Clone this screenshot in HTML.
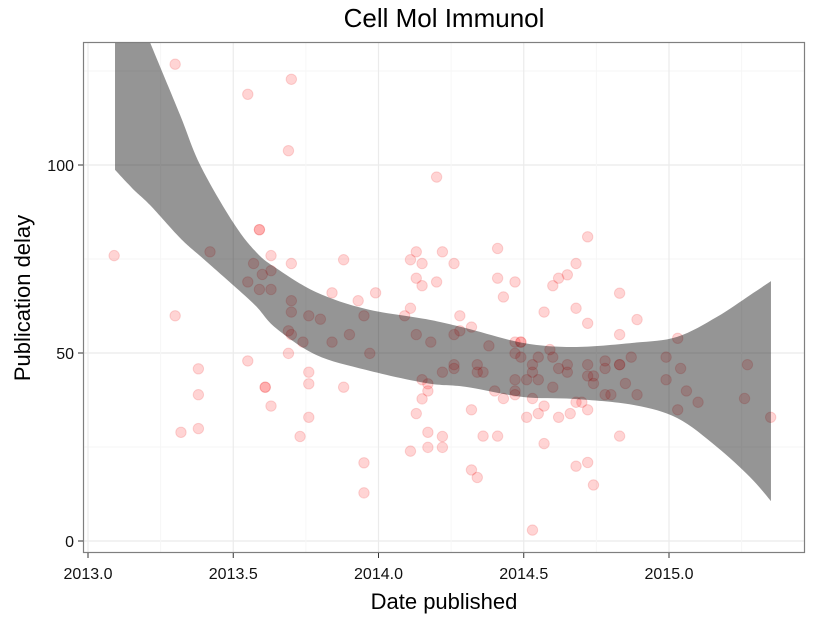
<!DOCTYPE html>
<html><head><meta charset="utf-8"><style>
body{margin:0;background:#fff;}
svg{display:block;font-family:"Liberation Sans",Arial,sans-serif;}
</style></head><body>
<svg id="chart" width="825" height="618" xmlns="http://www.w3.org/2000/svg">
<defs><clipPath id="clip"><rect x="83" y="42" width="722" height="511"/></clipPath></defs>
<text x="444" y="27" font-size="26" text-anchor="middle">Cell Mol Immunol</text>
<g id="grid" clip-path="url(#clip)"></g>
<g id="pts" clip-path="url(#clip)"></g>
<g id="rib" clip-path="url(#clip)"></g>
<rect x="83.5" y="42.5" width="721" height="510" fill="none" stroke="#7f7f7f" stroke-width="1.2"/>
<g id="axes"></g>
<text x="444" y="609" font-size="22" text-anchor="middle">Date published</text>
<text transform="translate(30,298) rotate(-90)" font-size="22" text-anchor="middle">Publication delay</text>
</svg>
<script>
const dates=[2013.09,2013.30,2013.70,2013.55,2013.69,2014.20,2013.59,2013.42,2013.63,2013.70,2013.88,2014.13,2014.11,2014.15,2013.57,2013.60,2013.63,2013.55,2013.59,2013.63,2014.13,2014.15,2014.20,2014.22,2013.84,2013.99,2013.70,2013.93,2014.11,2014.09,2013.70,2013.76,2013.80,2013.95,2013.90,2013.69,2013.70,2013.74,2013.84,2014.13,2014.18,2013.97,2013.69,2013.55,2014.22,2013.30,2013.38,2013.38,2013.38,2013.32,2013.61,2013.63,2013.76,2013.76,2013.88,2013.76,2013.73,2013.95,2013.95,2014.15,2014.17,2014.17,2014.15,2014.13,2014.17,2014.17,2014.11,2014.22,2014.22,
2014.72,2014.41,2014.26,2014.68,2014.41,2014.47,2014.65,2014.62,2014.60,2014.43,2014.83,2014.68,2014.57,2014.72,2014.89,2014.83,2015.03,2014.28,2014.32,2014.28,2014.26,2014.38,2014.47,2014.49,2014.47,2014.49,2014.59,2014.60,2014.55,2014.53,2014.65,2014.72,2014.78,2014.83,2014.87,2014.99,2015.04,2015.27,2014.26,2014.26,2014.34,2014.34,2014.36,2014.53,2014.62,2014.65,2014.78,2014.72,2014.74,2014.74,2014.47,2014.51,2014.55,2014.60,2014.85,2014.99,2015.06,2014.40,2014.47,2014.47,2014.43,2014.53,2014.78,2014.80,2014.89,2015.10,2015.26,2015.35,2014.68,2014.70,2014.57,2014.72,2014.66,2014.55,2014.51,2014.62,2014.32,2015.03,2014.36,2014.41,2014.83,2014.57,2014.32,2014.34,2014.68,2014.72,2014.74,2014.53,2013.59,2013.61,2014.49,2014.83];
const delays=[75.9,126.8,122.8,118.8,103.8,96.8,82.8,76.9,75.9,73.8,74.8,76.9,74.8,73.8,73.8,70.9,71.9,68.9,66.9,66.9,69.9,67.9,68.9,76.9,66,66,63.9,63.9,61.9,59.9,60.9,59.9,59,59.9,54.9,55.9,54.9,52.9,52.9,54.9,52.9,49.9,49.9,47.9,44.9,59.9,45.8,38.9,29.9,28.9,40.9,35.9,44.9,41.8,40.9,32.9,27.8,20.8,12.8,42.9,41.8,39.9,37.8,33.9,28.9,24.9,23.9,27.8,24.9,
80.9,77.8,73.8,73.8,69.9,68.9,70.8,69.9,67.9,64.9,65.9,61.9,60.9,57.9,58.9,54.9,53.9,59.9,56.9,55.9,54.9,51.9,52.9,52.9,49.9,48.9,50.9,48.9,48.9,46.9,46.9,46.9,47.9,46.9,48.9,48.9,45.9,46.9,46.9,45.9,46.9,44.9,44.9,44.9,45.9,44.9,45.9,43.9,43.9,41.9,42.9,42.9,42.9,40.9,41.9,42.9,39.9,39.9,39.9,38.9,37.9,37.9,38.9,38.9,38.9,36.9,37.9,32.9,36.9,36.9,35.9,34.9,33.9,33.9,32.9,32.9,34.9,34.9,27.9,27.9,27.9,25.9,18.9,16.9,19.9,20.9,14.9,2.9,82.8,40.9,52.9,46.9];
const ribX=[2013.093,2013.155,2013.213,2013.317,2013.386,2013.499,2013.578,2013.647,2013.785,2013.957,2014.164,2014.301,2014.497,2014.670,2014.876,2015.028,2015.165,2015.279,2015.351];
const ribUpper=[155.3,143.9,132.7,113.3,100,84.8,76.9,72.6,66.2,61.7,59.0,56.6,52.7,51.6,52.7,54.3,59.6,65.4,69.1];
const ribLower=[98.7,93.6,89.4,80.6,75.8,68.1,62.5,56.6,49.5,45.5,42.0,41.0,38.3,37.8,36.2,32.7,25.0,17.0,10.6];
const xTicks=[2013.0,2013.5,2014.0,2014.5,2015.0];
const xTickLabels=["2013.0","2013.5","2014.0","2014.5","2015.0"];
const yTicks=[0,50,100];
const yTickLabels=["0","50","100"];

const NS="http://www.w3.org/2000/svg";
const X=v=>88+(v-2013)*290.5;
const Y=v=>541-v*3.76;
function mk(tag,attrs,parent){const e=document.createElementNS(NS,tag);for(const k in attrs)e.setAttribute(k,attrs[k]);parent.appendChild(e);return e;}
const grid=document.getElementById('grid');
for(let v=-25;v<=150;v+=25){const major=v%50===0;const l=mk('line',{x1:83,x2:805,y1:Y(v),y2:Y(v),stroke:major?'#ebebeb':'#f6f6f6','stroke-width':major?1.2:1},grid);

}
for(let v=2012.75;v<=2015.5;v+=0.25){const major=Math.abs(v*2-Math.round(v*2))<1e-6;const l=mk('line',{x1:X(v),x2:X(v),y1:42,y2:553,stroke:major?'#ebebeb':'#f6f6f6','stroke-width':major?1.2:1},grid);

}
const pts=document.getElementById('pts');
dates.forEach((d,i)=>{const c=mk('circle',{cx:X(d),cy:Y(delays[i]),r:5.2,fill:'rgba(255,0,0,0.17)',stroke:'rgba(230,0,0,0.15)','stroke-width':1},pts);

});
function smooth(P){let s='';for(let i=0;i<P.length-1;i++){const p0=P[Math.max(0,i-1)],p1=P[i],p2=P[i+1],p3=P[Math.min(P.length-1,i+2)];
const c1=[p1[0]+(p2[0]-p0[0])/6,p1[1]+(p2[1]-p0[1])/6],c2=[p2[0]-(p3[0]-p1[0])/6,p2[1]-(p3[1]-p1[1])/6];
s+='C'+c1+' '+c2+' '+p2;}return s;}
const U=ribX.map((x,i)=>[X(x),Y(ribUpper[i])]);
const L=ribX.map((x,i)=>[X(x),Y(ribLower[i])]).reverse();
const p='M'+U[0]+smooth(U)+'L'+L[0]+smooth(L)+'Z';
const rib=document.getElementById('rib');
const r=mk('path',{d:p,fill:'rgba(0,0,0,0.415)'},rib);


const axes=document.getElementById('axes');
xTicks.forEach((t,i)=>{const l=mk('line',{x1:X(t),x2:X(t),y1:553,y2:558,stroke:'#333','stroke-width':1},axes);


const tx=mk('text',{x:X(t),y:579,'font-size':16,'text-anchor':'middle',fill:'#111'},axes);tx.textContent=xTickLabels[i];

});
yTicks.forEach((t,i)=>{const l=mk('line',{x1:78,x2:83,y1:Y(t),y2:Y(t),stroke:'#333','stroke-width':1},axes);


const tx=mk('text',{x:74,y:Y(t)+6,'font-size':16,'text-anchor':'end',fill:'#111'},axes);tx.textContent=yTickLabels[i];

});
</script>
</body></html>
